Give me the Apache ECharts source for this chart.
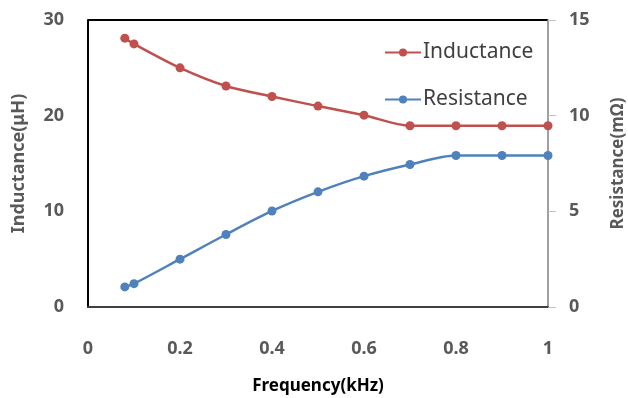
<!DOCTYPE html>
<html><head><meta charset="utf-8">
<script src="https://cdn.jsdelivr.net/npm/echarts@6/dist/echarts.min.js"></script>
<style>html,body{margin:0;padding:0;background:#fff}#c{width:628px;height:398px}</style>
</head><body><div id="c"></div>
<script>
const frequency = [0.08, 0.1, 0.2, 0.3, 0.4, 0.5, 0.6, 0.7, 0.8, 0.9, 1.0];
const inductance = [28.1, 27.5, 25.0, 23.1, 22.0, 21.0, 20.05, 18.95, 18.95, 18.95, 18.95];
const resistance = [1.05, 1.22, 2.5, 3.79, 5.02, 6.02, 6.84, 7.45, 7.92, 7.92, 7.92];
const xTicks = [0, 0.2, 0.4, 0.6, 0.8, 1];

const chart = echarts.init(document.getElementById('c'));
const font = '"Noto Sans", sans-serif';
const red = '#C0504D', blue = '#4F81BD';
chart.setOption({
  animation: false,
  grid: {left: 88, right: 80, top: 20, bottom: 91, outerBoundsMode: 'none', containLabel: false},
  legend: {
    orient: 'vertical', left: 379, top: 37, itemGap: 26,
    itemWidth: 36, itemHeight: 10,
    textStyle: {fontFamily: font, fontSize: 21, color: '#404040', padding: [0,0,0,-3]},
    data: ['Inductance', 'Resistance']
  },
  xAxis: {
    type: 'value', min: 0, max: 1, interval: 0.2,
    name: 'Frequency(kHz)', nameLocation: 'middle', nameGap: 71,
    nameTextStyle: {fontFamily: font, fontSize: 17, fontWeight: 'bold', color: '#000'},
    axisLine: {lineStyle: {color: '#404040', width: 2}},
    axisTick: {show: false}, splitLine: {show: false},
    axisLabel: {margin: 33, fontFamily: font, fontSize: 18, fontWeight: 'bold', color: '#595959',
      formatter: v => xTicks.includes(Math.round(v*10)/10) ? String(Math.round(v*10)/10) : ''}
  },
  yAxis: [{
    type: 'value', min: 0, max: 30, interval: 10, position: 'left',
    name: 'Inductance(μH)', nameLocation: 'middle', nameGap: 60, nameRotate: 90,
    nameTextStyle: {fontFamily: font, fontSize: 18, fontWeight: 'bold', color: '#595959'},
    axisLine: {show: true, lineStyle: {color: '#000', width: 2}},
    axisTick: {show: false}, splitLine: {show: false},
    axisLabel: {margin: 24, fontFamily: font, fontSize: 18, fontWeight: 'bold', color: '#595959'}
  }, {
    type: 'value', min: 0, max: 15, interval: 5, position: 'right',
    name: 'Resistance(mΩ)', nameLocation: 'middle', nameGap: 62, nameRotate: 90,
    nameTextStyle: {fontFamily: font, fontSize: 17, fontWeight: 'bold', color: '#595959'},
    axisLine: {show: true, lineStyle: {color: '#808080', width: 1.5}},
    axisTick: {show: true, length: 8, lineStyle: {color: '#bfbfbf'}}, splitLine: {show: false},
    axisLabel: {margin: 21, fontFamily: font, fontSize: 18, fontWeight: 'bold', color: '#595959'}
  }],
  series: [{
    name: 'Inductance', type: 'line', yAxisIndex: 0, smooth: 0.3,
    data: frequency.map((f, i) => [f, inductance[i]]),
    symbol: 'circle', symbolSize: 9,
    itemStyle: {color: red}, lineStyle: {color: red, width: 2.5}
  }, {
    name: 'Resistance', type: 'line', yAxisIndex: 1, smooth: 0.3,
    data: frequency.map((f, i) => [f, resistance[i]]),
    symbol: 'circle', symbolSize: 9,
    itemStyle: {color: blue}, lineStyle: {color: blue, width: 2.5}
  }],
  graphic: [{
    type: 'line', shape: {x1: 88, y1: 20, x2: 548, y2: 20},
    style: {stroke: '#000', lineWidth: 2}
  }]
});
</script></body></html>
